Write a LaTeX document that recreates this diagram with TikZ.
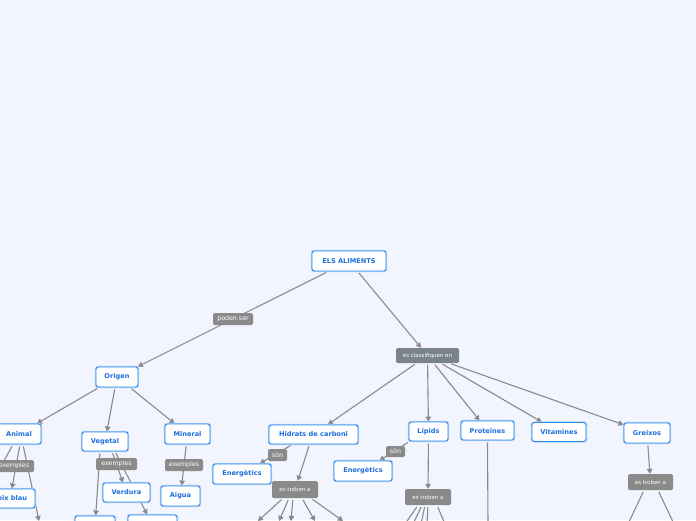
\documentclass[tikz,border=0pt]{standalone}
\usepackage{fontspec}
\newfontfamily\dvs{DejaVu Sans}
\usetikzlibrary{arrows.meta}
\definecolor{bgc}{RGB}{242,245,253}
\definecolor{cblue}{RGB}{48,140,238}
\definecolor{cglow}{RGB}{172,206,248}
\definecolor{ctext}{RGB}{28,110,222}
\definecolor{cgray}{RGB}{138,138,138}
\definecolor{cdark}{RGB}{122,131,140}
\definecolor{lc}{RGB}{138,138,142}
\pgfdeclarelayer{bg}
\pgfdeclarelayer{lines}
\pgfsetlayers{bg,lines,main}
\begin{document}
\begin{tikzpicture}[x=1pt,y=-1pt,
  concept/.style={draw=cblue, line width=0.9pt, fill=white, rounded corners=2.5pt,
    text=ctext, font=\dvs\bfseries\fontsize{6.6}{7}\selectfont, inner sep=0pt,
    minimum height=19pt, preaction={draw=cglow, line width=2.4pt}},
  lab/.style={fill=cgray, rounded corners=1.5pt, text=white,
    font=\dvs\fontsize{6.3}{7}\selectfont, inner sep=0pt, minimum height=12pt},
  labs/.style={lab, font=\dvs\fontsize{5.5}{6}\selectfont, minimum height=16pt},
  conn/.style={draw=lc, line width=1.1pt, -{Triangle[length=5pt,width=5.5pt]}, shorten <=2pt},
  plain/.style={draw=lc, line width=1.1pt, shorten <=2pt}]
\useasboundingbox (0,0) rectangle (696,520);
\begin{pgfonlayer}{bg}
\fill[bgc] (0,0) rectangle (696,520);
\end{pgfonlayer}

% main nodes
\node[concept, minimum width=74pt, minimum height=20pt] (els) at (349,261) {ELS ALIMENTS};
\node[lab, minimum width=40pt] (poden) at (233,319) {poden ser};
\node[labs, fill=cdark, minimum width=63pt, minimum height=15pt] (classif) at (427.5,355.5) {es classifiquen en};

\node[concept, minimum width=42pt, minimum height=20pt] (origen) at (117,377) {Origen};
\node[concept, minimum width=44pt, minimum height=20pt] (animal) at (19,434) {Animal};
\node[concept, minimum width=46pt] (vegetal) at (105,441.5) {Vegetal};
\node[concept, minimum width=45pt, minimum height=20pt] (mineral) at (187.5,434) {Mineral};

\node[concept, minimum width=50pt] (peix) at (10,498.5) {Peix blau};
\node[concept, minimum width=47pt] (verdura) at (126.5,492.5) {Verdura};
\node[concept, minimum width=39pt, minimum height=20pt] (aigua) at (180.5,496) {Aigua};
\node[concept, minimum width=40pt, minimum height=20pt] (bb1) at (95,526) {};
\node[concept, minimum width=49pt, minimum height=20pt] (bb2) at (152.5,525) {};

\node[concept, minimum width=89pt] (hidrats) at (313.5,434.5) {Hidrats de carboni};
\node[concept, minimum width=58pt, minimum height=20pt] (energ1) at (242,474) {Energètics};
\node[labs, minimum width=46pt, minimum height=17pt] (troben1) at (295,489.5) {es troben a};

\node[concept, minimum width=39pt] (lipids) at (428.5,431.5) {Lípids};
\node[concept, minimum width=58pt, minimum height=20pt] (energ2) at (363,471) {Energètics};
\node[labs, minimum width=46pt] (troben2) at (428,497) {es troben a};

\node[concept, minimum width=53pt] (proteines) at (487.5,430.5) {Proteïnes};
\node[concept, minimum width=54pt] (vitamines) at (559,432) {Vitamines};
\node[concept, minimum width=46pt, minimum height=20pt] (greixos) at (647,433) {Greixos};
\node[labs, minimum width=45pt] (troben3) at (650.5,482) {es troben a};

% connector labels
\node[lab, minimum width=40pt] (ex1) at (14,466) {exemples};
\node[lab, minimum width=41pt] (ex2) at (116.5,464) {exemples};
\node[lab, minimum width=38pt] (ex3) at (184,465) {exemples};
\node[lab, minimum width=19pt] (son1) at (277.5,455) {són};
\node[lab, minimum width=19pt, minimum height=11pt] (son2) at (395.5,451.5) {són};

% free ends below / beside the picture
\coordinate (offA) at (-12,490);
\coordinate (offB) at (39,521);
\coordinate (h1) at (258,521);
\coordinate (h2) at (279,521);
\coordinate (h3) at (291,521);
\coordinate (h4) at (315,521);
\coordinate (h5) at (343,521);
\coordinate (l1) at (405,524);
\coordinate (l2) at (413,524);
\coordinate (l3) at (421,524);
\coordinate (l4) at (427,524);
\coordinate (l5) at (445,524);
\coordinate (p1) at (488,524);
\coordinate (g1) at (628,524);
\coordinate (g2) at (674,524);

\begin{pgfonlayer}{lines}
\draw[conn] (els) -- (origen);
\draw[conn] (els) -- (classif);
\draw[conn] (origen) -- (animal);
\draw[conn] (origen) -- (vegetal);
\draw[conn] (origen) -- (mineral);

\draw[plain] ([xshift=-6pt]animal.south) -- (offA);
\draw[conn] ([xshift=1pt]animal.south) -- (peix);
\draw[conn] ([xshift=4pt]animal.south) -- (offB);

\draw[conn] ([xshift=-5pt]vegetal.south) -- (bb1);
\draw[conn] ([xshift=7pt]vegetal.south) -- (verdura);
\draw[conn] ([xshift=10pt]vegetal.south) -- (bb2);

\draw[conn] (mineral) -- (aigua);

\draw[conn] (classif) -- (hidrats);
\draw[conn] (classif) -- (lipids);
\draw[conn] (classif) -- (proteines);
\draw[conn] (classif) -- (vitamines);
\draw[conn] (classif) -- (greixos);

\draw[conn] ([xshift=-21pt]hidrats.south) -- (energ1);
\draw[conn] ([xshift=-4pt]hidrats.south) -- (troben1);
\draw[conn] ([xshift=-12pt]troben1.south) -- (h1);
\draw[conn] ([xshift=-6pt]troben1.south) -- (h2);
\draw[conn] ([xshift=-2pt]troben1.south) -- (h3);
\draw[conn] ([xshift=7pt]troben1.south) -- (h4);
\draw[conn] ([xshift=16pt]troben1.south) -- (h5);

\draw[conn] ([xshift=-19pt]lipids.south) -- (energ2);
\draw[conn] (lipids) -- (troben2);
\draw[plain] ([xshift=-10pt]troben2.south) -- (l1);
\draw[plain] ([xshift=-6pt]troben2.south) -- (l2);
\draw[plain] ([xshift=-3pt]troben2.south) -- (l3);
\draw[plain] ([xshift=0pt]troben2.south) -- (l4);
\draw[plain] ([xshift=9pt]troben2.south) -- (l5);

\draw[plain] (proteines.south) -- (p1);

\draw[conn] (greixos) -- (troben3);
\draw[plain] ([xshift=-6.5pt]troben3.south) -- (g1);
\draw[plain] ([xshift=7.5pt]troben3.south) -- (g2);
\end{pgfonlayer}
\end{tikzpicture}
\end{document}
